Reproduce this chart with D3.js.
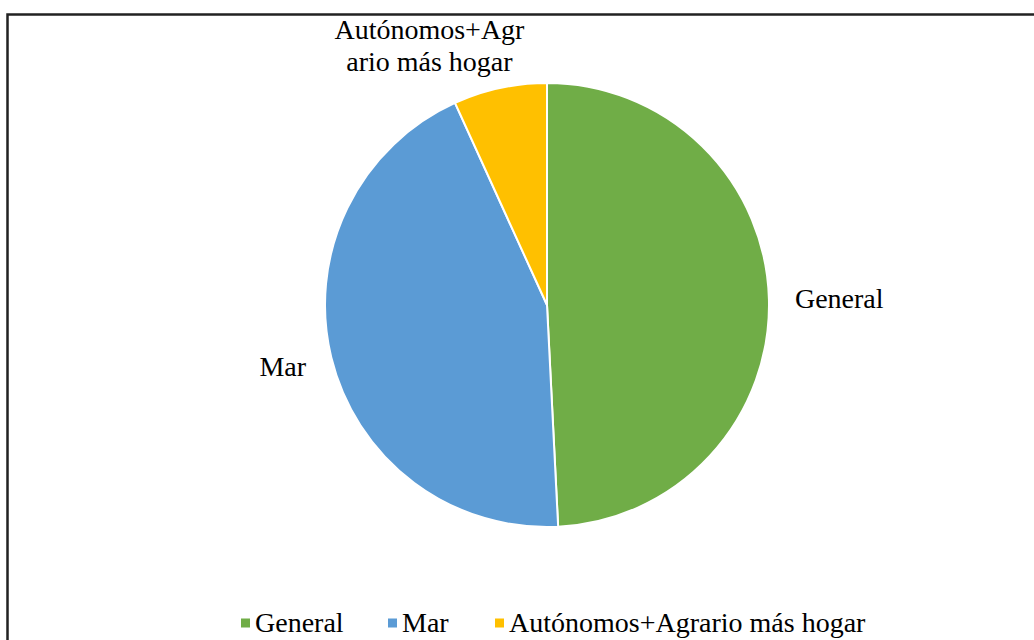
<!DOCTYPE html>
<html>
<head>
<meta charset="utf-8">
<script src="https://cdn.jsdelivr.net/npm/d3@7"></script>
<style>
  html, body { margin: 0; padding: 0; background: #fff; overflow: hidden; }
  text { font-family: "Liberation Serif", "Times New Roman", Times, serif; fill: #000; }
</style>
</head>
<body>
<svg id="chart" width="1034" height="640"></svg>
<script>
const categories = ["General", "Mar", "Autónomos+Agrario más hogar"];
const values = [49.2, 44.0, 6.8];
const labelLines = [["General"], ["Mar"], ["Autónomos+Agr", "ario más hogar"]];
const colors = ["#70AD47", "#5B9BD5", "#FFC000"];

const svg = d3.select("#chart");
const W = 1034, H = 640;

// outer border (only top and left edges visible in frame)
svg.append("rect")
  .attr("x", 7.5).attr("y", 14.5)
  .attr("width", W + 20).attr("height", H + 20)
  .attr("fill", "none").attr("stroke", "#222").attr("stroke-width", 2.5);

const cx = 547, cy = 305, r = 222;
const pie = d3.pie().sort(null).value(d => d)(values);
const arc = d3.arc().innerRadius(0).outerRadius(r);
const labelArc = d3.arc().innerRadius(248).outerRadius(248);

const g = svg.append("g").attr("transform", `translate(${cx},${cy})`);
g.selectAll("path").data(pie).enter().append("path")
  .attr("d", arc)
  .attr("fill", (d, i) => colors[i])
  .attr("stroke", "#fff").attr("stroke-width", 2);

const anchors = ["start", "end", "middle"];
const offsets = [[0, 0], [0, 3], [-65, -17]];
pie.forEach((d, i) => {
  const [x, y] = labelArc.centroid(d);
  const lines = labelLines[i];
  const t = g.append("text")
    .attr("text-anchor", anchors[i])
    .attr("font-family", "Liberation Serif, Times New Roman, serif")
    .attr("font-size", 28);
  lines.forEach((ln, j) => {
    t.append("tspan")
      .attr("x", x + offsets[i][0])
      .attr("y", y + offsets[i][1] + (j - (lines.length - 1) / 2) * 32)
      .attr("dy", "0.33em")
      .text(ln);
  });
});

// legend
const legendX = [241, 388, 495];
const legendY = 623;
const lg = svg.append("g");
categories.forEach((c, i) => {
  lg.append("rect")
    .attr("x", legendX[i]).attr("y", legendY - 4.5)
    .attr("width", 9).attr("height", 9)
    .attr("fill", colors[i]);
  lg.append("text")
    .attr("x", legendX[i] + 14).attr("y", legendY)
    .attr("dy", "0.33em")
    .attr("font-family", "Liberation Serif, Times New Roman, serif")
    .attr("font-size", 28)
    .text(c);
});
</script>
</body>
</html>
